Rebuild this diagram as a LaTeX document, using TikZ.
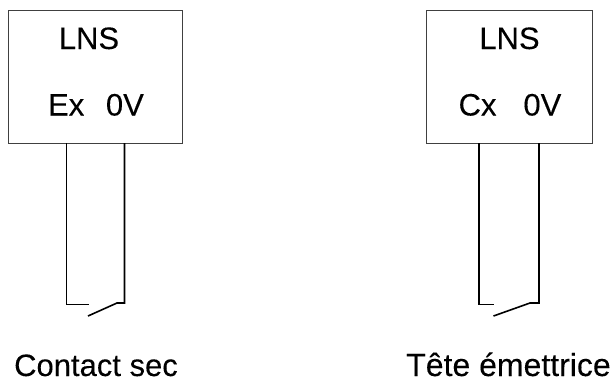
\documentclass[tikz,border=0pt]{standalone}
\usepackage{fontspec}
\setmainfont{Liberation Sans}
\newfontfamily\labelfont{Liberation Sans}[FakeBold=0.12]
\tikzset{
  x=1pt,y=-1pt,
  box/.style={draw=black!75,line width=1pt},
  wire/.style={draw=black,line width=1.6pt,line join=miter},
  label/.style={inner sep=0pt,anchor=base,font=\labelfont\fontsize{31}{33}\selectfont,text=black}
}
\begin{document}
\begin{tikzpicture}
\useasboundingbox (0,0) rectangle (613,381);
\draw[box] (8.5,10.5) rectangle (182.5,143);
\draw[box] (426,10.5) rectangle (592,143);
\coordinate (a1) at (66.5,143);
\coordinate (a2) at (66.5,304.5);
\coordinate (a3) at (89,304.5);
\coordinate (b1) at (124.5,143);
\coordinate (b2) at (124.5,303);
\coordinate (b3) at (117,303);
\coordinate (b4) at (88,316);
\coordinate (c1) at (479,143);
\coordinate (c2) at (479,304.5);
\coordinate (c3) at (494,304.5);
\coordinate (d1) at (539,143);
\coordinate (d2) at (539,303);
\coordinate (d3) at (530,303);
\coordinate (d4) at (493.5,316);
\draw[wire] (a1) -- (a2) -- (a3);
\draw[wire] (b1) -- (b2) -- (b3) -- (b4);
\draw[wire] (c1) -- (c2) -- (c3);
\draw[wire] (d1) -- (d2) -- (d3) -- (d4);
\node[label] (n1) at (89,49) {LNS};
\node[label] (n2) at (96,115.5) {Ex\hspace{0.7em}0V};
\node[label] (n3) at (509.5,49) {LNS};
\node[label] (n4) at (510,115.5) {Cx\hspace{0.87em}0V};
\node[label] (n5) at (96,376) {Contact sec};
\node[label,font=\labelfont\fontsize{32}{34}\selectfont] (n6) at (508.5,376) {Tête émettrice};
\end{tikzpicture}
\end{document}
